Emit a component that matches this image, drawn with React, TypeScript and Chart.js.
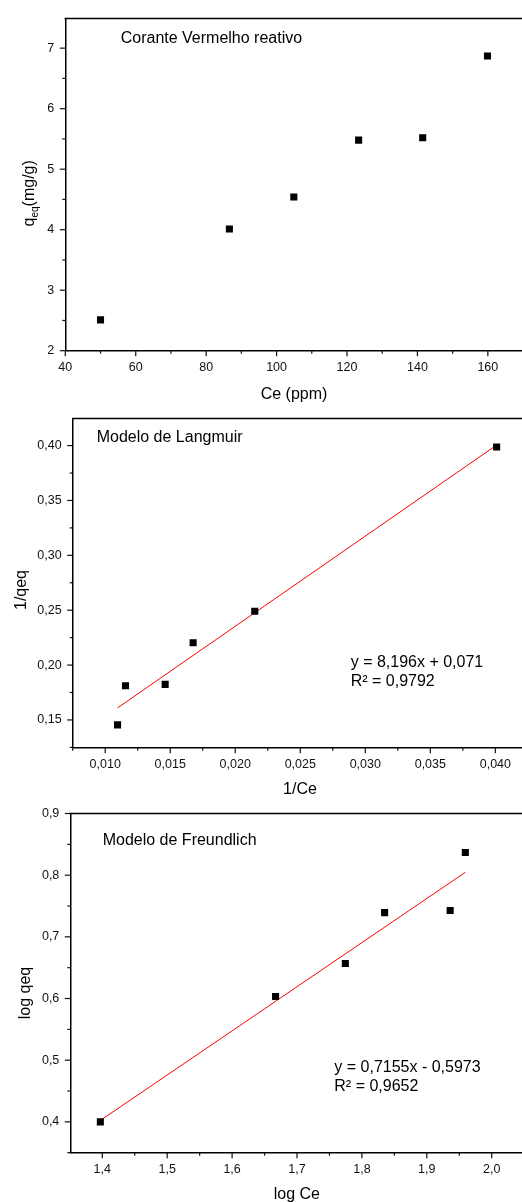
import React, { useEffect, useRef } from "react";
import { Chart, registerables } from "chart.js";

Chart.register(...registerables);

const FONT = '"Liberation Sans", Arial, Helvetica, sans-serif';

// ---------- Chart 1: isotherm ----------
const ceValues = [50.0, 86.6, 104.9, 123.3, 141.5, 159.9];
const qeqValues = [2.51, 4.01, 4.54, 5.48, 5.52, 6.87];
const ceTicks = [40, 60, 80, 100, 120, 140, 160];
const qeqTicks = [2, 3, 4, 5, 6, 7];

// ---------- Chart 2: Langmuir ----------
const invCeValues = [0.01095, 0.01156, 0.01461, 0.01676, 0.0215, 0.0401];
const invQeqValues = [0.1455, 0.1812, 0.1824, 0.2204, 0.2491, 0.3988];
const langmuirFitX = [0.01095, 0.0401];
const langmuirFitY = [0.161, 0.4005];
const invCeTicks = [0.01, 0.015, 0.02, 0.025, 0.03, 0.035, 0.04];
const invQeqTicks = [0.15, 0.2, 0.25, 0.3, 0.35, 0.4];

// ---------- Chart 3: Freundlich ----------
const logCeValues = [1.397, 1.667, 1.7745, 1.835, 1.936, 1.9594];
const logQeqValues = [0.4, 0.6034, 0.6568, 0.7393, 0.7426, 0.8369];
const freundlichFitX = [1.397, 1.9594];
const freundlichFitY = [0.4023, 0.8047];
const logCeTicks = [1.4, 1.5, 1.6, 1.7, 1.8, 1.9, 2.0];
const logQeqTicks = [0.4, 0.5, 0.6, 0.7, 0.8, 0.9];

type Seg = { text: string; size: number; shift: number };
type Note = { text: string; x: number; y: number };
type Spec = {
  top: number;
  height: number;
  area: { left: number; top: number; bottom: number };
  xMin: number; xMax: number; yMin: number; yMax: number;
  xTicks: number[]; yTicks: number[];
  xMinor: number; yMinor: number;
  xDec: number; yDec: number;
  xs: number[]; ys: number[];
  fitX?: number[]; fitY?: number[];
  xTitle: string; xTitlePos: [number, number];
  yTitle: Seg[]; yTitlePos: [number, number];
  notes: Note[];
};

const specs: Spec[] = [
  {
    top: 0, height: 410,
    area: { left: 65.3, top: 10.7, bottom: 350.7 },
    xMin: 40, xMax: 169.7, yMin: 2, yMax: 7.49,
    xTicks: ceTicks, yTicks: qeqTicks, xMinor: 10, yMinor: 0.5, xDec: 0, yDec: 0,
    xs: ceValues, ys: qeqValues,
    xTitle: "Ce (ppm)", xTitlePos: [294, 398.7],
    yTitle: [
      { text: "q", size: 16, shift: 0 },
      { text: "eq", size: 10, shift: 4 },
      { text: "(mg/g)", size: 16, shift: 0 },
    ],
    yTitlePos: [34, 193.3],
    notes: [{ text: "Corante Vermelho reativo", x: 120.7, y: 43.3 }],
  },
  {
    top: 400, height: 400,
    area: { left: 72.7, top: 11, bottom: 347.7 },
    xMin: 0.0075, xMax: 0.04205, yMin: 0.1247, yMax: 0.4247,
    xTicks: invCeTicks, yTicks: invQeqTicks, xMinor: 0.0025, yMinor: 0.025, xDec: 3, yDec: 2,
    xs: invCeValues, ys: invQeqValues, fitX: langmuirFitX, fitY: langmuirFitY,
    xTitle: "1/Ce", xTitlePos: [300, 394],
    yTitle: [{ text: "1/qeq", size: 16, shift: 0 }],
    yTitlePos: [25.5, 190],
    notes: [
      { text: "Modelo de Langmuir", x: 96.7, y: 42.3 },
      { text: "y = 8,196x + 0,071", x: 350.7, y: 266.7 },
      { text: "R² = 0,9792", x: 350.7, y: 286 },
    ],
  },
  {
    top: 795, height: 407,
    area: { left: 70.3, top: 18, bottom: 357.7 },
    xMin: 1.3507, xMax: 2.0467, yMin: 0.35, yMax: 0.9,
    xTicks: logCeTicks, yTicks: logQeqTicks, xMinor: 0.05, yMinor: 0.05, xDec: 1, yDec: 1,
    xs: logCeValues, ys: logQeqValues, fitX: freundlichFitX, fitY: freundlichFitY,
    xTitle: "log Ce", xTitlePos: [296.8, 404.3],
    yTitle: [{ text: "log qeq", size: 16, shift: 0 }],
    yTitlePos: [30, 198],
    notes: [
      { text: "Modelo de Freundlich", x: 102.7, y: 50.3 },
      { text: "y = 0,7155x - 0,5973", x: 334.3, y: 276.7 },
      { text: "R² = 0,9652", x: 334.3, y: 295.7 },
    ],
  },
];

const fmt = (v: number, d: number) => v.toFixed(d).replace(".", ",");

function Plot({ spec }: { spec: Spec }) {
  const ref = useRef<HTMLCanvasElement>(null);
  useEffect(() => {
    const s = spec;
    const canvas = ref.current!;
    const datasets: any[] = [
      {
        data: s.xs.map((x, i) => ({ x, y: s.ys[i] })),
        pointStyle: "rect",
        pointRadius: 5,
        pointHoverRadius: 5,
        pointBackgroundColor: "#000",
        pointBorderColor: "#000",
        pointBorderWidth: 0,
        showLine: false,
        order: 0,
      },
    ];
    if (s.fitX && s.fitY) {
      datasets.push({
        data: s.fitX.map((x, i) => ({ x, y: s.fitY![i] })),
        showLine: true,
        borderColor: "#ff0000",
        borderWidth: 1,
        pointRadius: 0,
        pointHoverRadius: 0,
        fill: false,
        tension: 0,
        order: 1,
      });
    }

    const tickRun = (
      sc: any,
      base: number,
      step: number,
      draw: (p: number, len: number) => void
    ) => {
      const k0 = Math.ceil((sc.min - base) / step - 1e-6);
      const k1 = Math.floor((sc.max - base) / step + 1e-6);
      for (let k = k0; k <= k1; k++) {
        const v = base + k * step;
        const p = sc.getPixelForValue(v);
        const major = Math.abs(k) % 2 === 0;
        draw(p, major ? 5.5 : 3);
      }
    };

    const deco = {
      id: "deco",
      afterDraw(chart: any) {
        const ctx: CanvasRenderingContext2D = chart.ctx;
        const a = chart.chartArea;
        const xs = chart.scales.x;
        const ys = chart.scales.y;
        ctx.save();
        // top frame line
        ctx.strokeStyle = "#000";
        ctx.lineWidth = 1.5;
        ctx.beginPath();
        ctx.moveTo(a.left - 0.75, a.top);
        ctx.lineTo(a.right, a.top);
        ctx.stroke();
        // ticks
        ctx.lineWidth = 1.2;
        ctx.strokeStyle = "#111";
        tickRun(xs, s.xTicks[0], s.xMinor, (p, len) => {
          ctx.beginPath();
          ctx.moveTo(p, a.bottom);
          ctx.lineTo(p, a.bottom + len);
          ctx.stroke();
        });
        tickRun(ys, s.yTicks[0], s.yMinor, (p, len) => {
          ctx.beginPath();
          ctx.moveTo(a.left, p);
          ctx.lineTo(a.left - len, p);
          ctx.stroke();
        });
        // texts
        ctx.fillStyle = "#000";
        ctx.textBaseline = "alphabetic";
        ctx.font = `16px ${FONT}`;
        ctx.textAlign = "left";
        for (const n of s.notes) ctx.fillText(n.text, n.x, n.y);
        ctx.textAlign = "center";
        ctx.fillText(s.xTitle, s.xTitlePos[0], s.xTitlePos[1]);
        // rotated y title
        let total = 0;
        for (const g of s.yTitle) {
          ctx.font = `${g.size}px ${FONT}`;
          total += ctx.measureText(g.text).width;
        }
        ctx.translate(s.yTitlePos[0], s.yTitlePos[1]);
        ctx.rotate(-Math.PI / 2);
        ctx.textAlign = "left";
        let cx = -total / 2;
        for (const g of s.yTitle) {
          ctx.font = `${g.size}px ${FONT}`;
          ctx.fillText(g.text, cx, g.shift);
          cx += ctx.measureText(g.text).width;
        }
        ctx.restore();
      },
    };

    const chart = new Chart(canvas, {
      type: "scatter",
      data: { datasets },
      options: {
        responsive: false,
        animation: false,
        events: [],
        layout: {
          autoPadding: false,
          padding: { top: s.area.top, left: 0, right: 0, bottom: 0 },
        },
        plugins: { legend: { display: false }, tooltip: { enabled: false } },
        scales: {
          x: {
            type: "linear",
            position: "bottom",
            min: s.xMin,
            max: s.xMax,
            afterBuildTicks: (sc: any) => {
              sc.ticks = s.xTicks.map((v) => ({ value: v }));
            },
            afterFit: (sc: any) => {
              sc.height = s.height - s.area.bottom;
            },
            grid: { display: false, drawTicks: false },
            border: { display: true, color: "#000", width: 1.5 },
            ticks: {
              padding: 9.3,
              color: "#111",
              font: { family: FONT, size: 12.5 },
              maxRotation: 0,
              autoSkip: false,
              callback: (v: any) => fmt(Number(v), s.xDec),
            },
          },
          y: {
            type: "linear",
            position: "left",
            min: s.yMin,
            max: s.yMax,
            afterBuildTicks: (sc: any) => {
              sc.ticks = s.yTicks.map((v) => ({ value: v }));
            },
            afterFit: (sc: any) => {
              sc.width = s.area.left;
            },
            grid: { display: false, drawTicks: false },
            border: { display: true, color: "#000", width: 1.5 },
            ticks: {
              padding: 11,
              color: "#111",
              font: { family: FONT, size: 12.5 },
              autoSkip: false,
              callback: (v: any) => fmt(Number(v), s.yDec),
            },
          },
        },
      },
      plugins: [deco],
    } as any);
    return () => chart.destroy();
  }, [spec]);

  return (
    <canvas
      ref={ref}
      width={522}
      height={spec.height}
      style={{ position: "absolute", left: 0, top: spec.top, display: "block" }}
    />
  );
}

export default function App() {
  return (
    <div
      style={{
        position: "absolute",
        left: 0,
        top: 0,
        width: 522,
        height: 1202,
        background: "#fff",
        overflow: "hidden",
      }}
    >
      {specs.map((s, i) => (
        <Plot key={i} spec={s} />
      ))}
    </div>
  );
}
